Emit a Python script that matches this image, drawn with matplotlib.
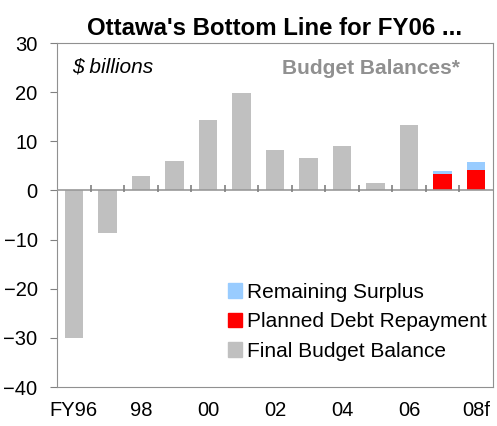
import numpy as np
import matplotlib.pyplot as plt
from matplotlib.patches import Patch

plt.rcParams['font.family'] = ['Liberation Sans', 'DejaVu Sans']

years = ["FY96", "97", "98", "99", "00", "01", "02", "03", "04", "05", "06", "07", "08f"]
final_balance = [-30.0, -8.7, 3.0, 5.9, 14.3, 19.9, 8.2, 6.7, 9.1, 1.5, 13.3, 0, 0]
debt_repayment = [0, 0, 0, 0, 0, 0, 0, 0, 0, 0, 0, 3.4, 4.2]
remaining_surplus = [0, 0, 0, 0, 0, 0, 0, 0, 0, 0, 0, 0.6, 1.6]
shown_labels = ["FY96", "", "98", "", "00", "", "02", "", "04", "", "06", "", "08f"]

grey = "#c0c0c0"
red = "#ff0000"
blue = "#99ccff"

fig = plt.figure(figsize=(4.97, 4.26), dpi=100)
ax = fig.add_axes([0.1147, 0.0915, 0.8773, 0.8075])

x = np.arange(len(years))
w = 0.55
ax.bar(x, final_balance, width=w, color=grey, zorder=2)
ax.bar(x, debt_repayment, width=w, color=red, zorder=2)
ax.bar(x, remaining_surplus, width=w, bottom=debt_repayment, color=blue, zorder=2)

ax.axhline(0, color="#999999", lw=1.2, zorder=3)
# small ticks on the zero line between categories
ax.vlines(x[:-1] + 0.5, -0.4, 1.2, color="#808080", lw=1.2, zorder=3)

ax.set_xlim(-0.5, len(years) - 0.5)
ax.set_ylim(-40, 30)
ax.set_yticks(np.arange(-40, 31, 10))
ax.set_xticks(x)
ax.set_xticklabels(shown_labels)
ax.tick_params(axis='x', length=0, pad=10, labelsize=14.5)
ax.tick_params(axis='y', length=5, color="#808080", labelsize=14.5, pad=9)
for s in ax.spines.values():
    s.set_color("#909090")

ax.set_title("Ottawa's Bottom Line for FY06 ...", fontsize=17.3, fontweight='bold', pad=6)
ax.text(0.035, 0.93, "$ billions", transform=ax.transAxes, fontsize=15, style='italic', va='center')
ax.text(0.923, 0.925, "Budget Balances*", transform=ax.transAxes, fontsize=15, fontweight='bold',
        color="#909090", ha='right', va='center')

handles = [Patch(color=blue, label="Remaining Surplus"),
           Patch(color=red, label="Planned Debt Repayment"),
           Patch(color=grey, label="Final Budget Balance")]
ax.legend(handles=handles, loc='lower left', bbox_to_anchor=(0.372, 0.052), frameon=False,
          fontsize=15, handlelength=0.7, handleheight=0.7, handletextpad=0.25, labelspacing=0.5,
          borderaxespad=0)

fig.savefig("out.png", dpi=100)
